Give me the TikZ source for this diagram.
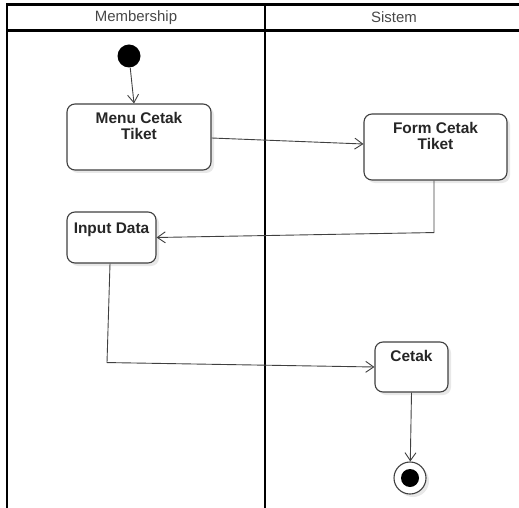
\documentclass[tikz,border=0pt]{standalone}
\usepackage{fontspec}
\setmainfont{Liberation Sans}
\usetikzlibrary{arrows.meta,shadows}

\tikzset{
    lane/.style={line width=2.5bp, line cap=rect},
    lanetitle/.style={font=\fontsize{15}{16}\selectfont, text=black!72},
    action/.style={draw=black!75, line width=1.1bp, rounded corners=8bp, fill=white,
        inner sep=0pt, drop shadow={opacity=0.18, shadow xshift=3bp, shadow yshift=-3bp}},
    acttext/.style={anchor=north, align=center, inner sep=9bp, text=black!85,
        font=\bfseries\fontsize{15.5}{16}\selectfont},
    flow/.style={draw=black!75, line width=0.9bp, ->},
}

\begin{document}
\begin{tikzpicture}[x=1bp, y=-1bp, >={Straight Barb[length=8bp,width=11bp]}]
    \useasboundingbox (0,0) rectangle (519,508);

    % swimlanes
    \draw[lane] (7,510) -- (7,4.5) -- (522,4.5);
    \draw[lane] (7,30.5) -- (522,30.5);
    \draw[lane] (265,4.5) -- (265,510);
    \node[lanetitle] (membership) at (136,17.5) {Membership};
    \node[lanetitle] (sistem) at (394,17.5) {Sistem};

    % states
    \node[circle, fill=black, minimum size=23bp, inner sep=0pt] (start) at (129,56) {};
    \node[action, minimum width=144bp, minimum height=66bp,
        label={[acttext]north:Menu Cetak\\Tiket}] (menu) at (139,137) {};
    \node[action, minimum width=143bp, minimum height=66bp,
        label={[acttext]north:Form Cetak\\Tiket}] (form) at (435.5,147) {};
    \node[action, minimum width=89bp, minimum height=51bp,
        label={[acttext, inner sep=11bp]north:Input Data}] (input) at (111.5,237.5) {};
    \node[action, minimum width=73bp, minimum height=50bp,
        label={[acttext]north:Cetak}] (cetak) at (411.5,367) {};
    \node[circle, draw=black!75, line width=1.1bp, fill=white, minimum size=32bp, inner sep=0pt,
        drop shadow={opacity=0.18, shadow xshift=3bp, shadow yshift=-3bp}] (end) at (410,478) {};
    \node[circle, fill=black, minimum size=18bp, inner sep=0pt] (endin) at (end) {};

    % transitions
    \draw[flow] (start) -- ([xshift=-5bp]menu.north);
    \draw[flow] ([yshift=-1bp]menu.east) -- ([yshift=3bp]form.west);
    \draw[flow] ([xshift=-1.5bp]form.south) -- ++(0,52) -- (input.east);
    \draw[flow] ([xshift=-1.5bp]input.south) -- ++(-3,99) -- (cetak.west);
    \draw[flow] (cetak.south) -- (end);
\end{tikzpicture}
\end{document}
